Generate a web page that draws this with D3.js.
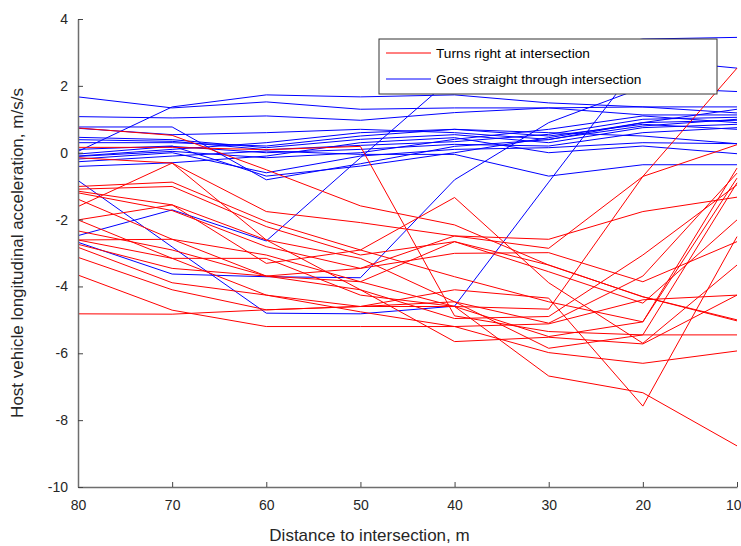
<!DOCTYPE html>
<html>
<head>
<meta charset="utf-8">
<script src="https://cdn.jsdelivr.net/npm/d3@7"></script>
<style>
  body { margin: 0; background: #fff; }
  svg { font-family: "Liberation Sans", Arial, sans-serif; }
</style>
</head>
<body>
<div id="Area"></div>
<script>
// distance to intersection, m
var distances = [80, 70, 60, 50, 40, 30, 20, 10];

// turns right at intersection (red), one row per run
var rightTurns = [
  [0.74, 0.52, -0.51, -1.59, -2.16, -3.36, -4.31, -5.0],
  [0.16, 0.16, 0.09, 0.19, -4.88, -5.35, -5.45, -5.45],
  [-0.15, -0.31, -1.76, -2.09, -2.49, -2.86, -0.71, 0.24],
  [-1.01, -0.88, -2.06, -2.91, -3.71, -4.46, -5.06, -0.46],
  [-1.09, -1.01, -2.21, -3.06, -2.66, -3.56, -4.5, -2.01],
  [-1.15, -1.56, -2.61, -3.16, -4.46, -5.1, -3.69, -0.61],
  [-1.2, -1.73, -2.81, -3.46, -2.49, -2.59, -1.76, -1.33],
  [-1.39, -2.59, -3.06, -3.86, -4.6, -5.5, -5.06, -0.76],
  [-1.61, -0.31, -2.61, -4.1, -4.96, -4.9, -3.06, -0.96],
  [-2.01, -1.56, -3.31, -2.91, -1.34, -3.89, -5.7, -3.36],
  [-2.34, -2.91, -3.69, -3.46, -3.01, -2.99, -3.86, -2.66],
  [-2.61, -3.16, -3.16, -4.26, -4.6, -4.68, -0.71, 2.53],
  [-2.74, -3.46, -3.69, -3.86, -2.66, -3.36, -4.31, -5.03],
  [-2.83, -3.89, -4.26, -4.76, -5.2, -5.98, -6.3, -5.93],
  [-3.13, -4.1, -4.7, -4.6, -4.6, -6.68, -7.18, -8.77],
  [-3.66, -4.71, -5.2, -5.2, -5.2, -5.12, -4.4, -4.26],
  [-4.82, -4.83, -4.7, -4.6, -4.1, -4.35, -7.58, -2.51],
  [-2.61, -2.59, -3.69, -4.1, -5.65, -5.52, -5.72, -4.26],
  [-2.01, -3.16, -4.26, -4.6, -4.46, -5.85, -5.45, -0.9]
];

// goes straight through intersection (blue)
var straightThrough = [
  [1.67, 1.34, 1.52, 1.3, 1.34, 1.34, 1.37, 1.37],
  [0.04, 1.37, 1.73, 1.67, 1.73, 1.49, 1.37, 1.19],
  [1.08, 1.04, 1.1, 0.97, 1.2, 1.34, 1.13, 1.13],
  [0.77, 0.77, -0.81, -0.33, 0.19, 0.39, 0.9, 0.97],
  [0.73, 0.54, 0.6, 0.7, 0.6, 0.4, 0.8, 1.0],
  [0.46, 0.39, 0.15, 0.4, 0.54, 0.3, 0.75, 0.85],
  [0.39, 0.34, 0.09, 0.22, 0.33, 0.55, 1.0, 1.06],
  [-0.04, 0.19, 0.0, 0.1, 0.25, 0.2, 0.6, 0.75],
  [-0.11, 0.04, -0.15, 0.0, 0.4, 0.7, 1.1, 0.9],
  [-0.19, 0.0, -0.6, -0.1, 0.1, 0.15, 0.3, 0.27],
  [-0.41, -0.3, -0.1, 0.3, 0.45, 0.0, 0.2, -0.03],
  [-0.27, -0.1, 0.05, -0.05, -0.05, -0.7, -0.36, -0.36],
  [-0.83, -2.82, -4.8, -4.82, -4.59, -0.88, 2.8, 2.53],
  [-2.48, -1.71, -2.64, -0.15, 2.3, 3.0, 3.4, 3.45],
  [-2.68, -3.63, -3.71, -3.74, -0.81, 0.9, 1.95, 1.83],
  [0.3, 0.3, 0.2, 0.5, 0.7, 0.5, 0.85, 0.7],
  [-0.1, 0.1, 0.3, 0.6, 0.7, 0.6, 0.5, 0.27],
  [0.1, 0.2, -0.7, -0.4, 0.0, 0.45, 0.9, 1.3]
];

var xTicks = [80, 70, 60, 50, 40, 30, 20, 10];
var yTicks = [4, 2, 0, -2, -4, -6, -8, -10];
var legendLabels = ["Turns right at intersection", "Goes straight through intersection"];
var colors = ["#ff0000", "#0000ff"];

var margin = {top: 19, right: 4, bottom: 59, left: 78},
    width = 741 - margin.left - margin.right,
    height = 546 - margin.top - margin.bottom;

var svg = d3.select("#Area")
  .append("svg")
    .attr("width", 741)
    .attr("height", 546)
  .append("g")
    .attr("transform", "translate(" + margin.left + "," + margin.top + ")");

var x = d3.scaleLinear()
    .domain([80, 10])
    .range([0, width]);

var y = d3.scaleLinear()
    .domain([-10, 4])
    .range([height, 0]);

var line = d3.line()
    .x(function(d, i) { return x(distances[i]); })
    .y(function(d) { return y(d); });

// blue first, red on top
svg.selectAll(".straight")
  .data(straightThrough)
  .enter()
  .append("path")
    .attr("class", "straight")
    .attr("d", line)
    .attr("fill", "none")
    .attr("stroke", colors[1])
    .attr("stroke-width", 1);

svg.selectAll(".right")
  .data(rightTurns)
  .enter()
  .append("path")
    .attr("class", "right")
    .attr("d", line)
    .attr("fill", "none")
    .attr("stroke", colors[0])
    .attr("stroke-width", 1);

// axes, ticks pointing inward like matlab, plain hyphen minus
var fmt = function(d) { return String(d); };

var xAxis = svg.append("g")
  .attr("transform", "translate(0," + height + ")")
  .call(d3.axisBottom(x).tickValues(xTicks).tickFormat(fmt)
    .tickSizeInner(-5).tickSizeOuter(0).tickPadding(13));

var yAxis = svg.append("g")
  .call(d3.axisLeft(y).tickValues(yTicks).tickFormat(fmt)
    .tickSizeInner(-5).tickSizeOuter(0).tickPadding(10));

[xAxis, yAxis].forEach(function(a) {
  a.select(".domain").attr("stroke", "#6e6e6e").attr("stroke-width", 1.5);
  a.selectAll(".tick line").attr("stroke", "#444");
  a.selectAll(".tick text").attr("fill", "#262626").style("font-size", "14px");
});

// last label sits against the window edge
xAxis.selectAll(".tick text")
  .filter(function(d) { return d === 10; })
  .attr("text-anchor", "end")
  .attr("dx", 4);

svg.append("text")
  .attr("x", width / 2 - 38)
  .attr("y", height + 54)
  .attr("text-anchor", "middle")
  .attr("fill", "#262626")
  .style("font-size", "17px")
  .text("Distance to intersection, m");

svg.append("text")
  .attr("transform", "translate(-55," + (height / 2) + ") rotate(-90)")
  .attr("text-anchor", "middle")
  .attr("fill", "#262626")
  .style("font-size", "17px")
  .text("Host vehicle longitudinal acceleration, m/s/s");

// legend
var legend = svg.append("g")
  .attr("transform", "translate(" + (379 - margin.left) + "," + (39 - margin.top) + ")");

legend.append("rect")
  .attr("width", 338)
  .attr("height", 55)
  .attr("fill", "#fff")
  .attr("stroke", "#333")
  .attr("stroke-width", 1);

legend.selectAll(".item")
  .data(legendLabels)
  .enter()
  .append("g")
    .attr("class", "item")
    .attr("transform", function(d, i) { return "translate(0," + (14 + i * 26) + ")"; })
  .each(function(d, i) {
    var g = d3.select(this);
    g.append("line")
      .attr("x1", 7).attr("x2", 52)
      .attr("y1", 0).attr("y2", 0)
      .attr("stroke", colors[i]);
    g.append("text")
      .attr("x", 57)
      .attr("y", 5)
      .attr("fill", "#000")
      .style("font-size", "13.7px")
      .text(d);
  });
</script>
</body>
</html>
